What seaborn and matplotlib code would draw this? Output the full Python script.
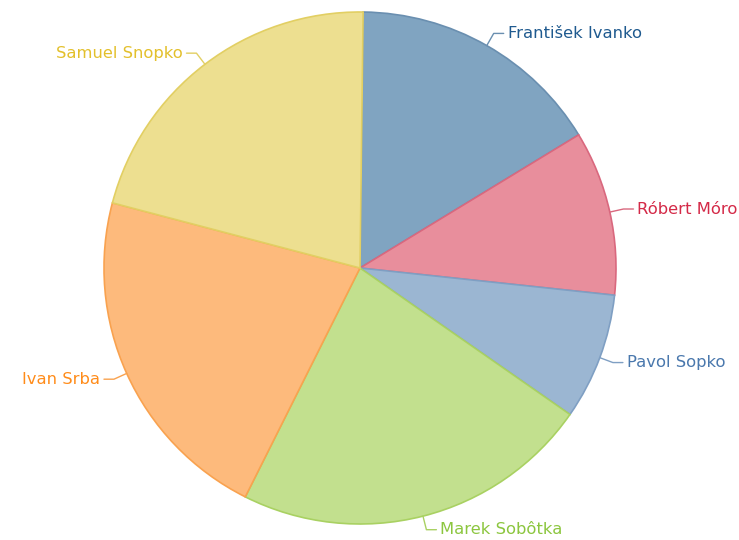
import numpy as np
import matplotlib
matplotlib.use("Agg")
import matplotlib.pyplot as plt
import seaborn as sns

names = ["František Ivanko", "Róbert Móro", "Pavol Sopko",
         "Marek Sobôtka", "Ivan Srba", "Samuel Snopko"]
shares = [16.1, 10.4, 8.0, 22.7, 21.7, 21.1]

fills = ["#80a4c1", "#e88e9c", "#9bb6d2", "#c2e08e", "#fdba7c", "#eddf90"]
edges = ["#6a8fb0", "#d9687e", "#7f9fc3", "#a9d162", "#f9a24f", "#e2cf63"]
text_colors = ["#1f5a8f", "#d42a48", "#4a78ad", "#8cc63f", "#ff8c1a", "#e3c02c"]

sns.set_theme(style="white")
plt.rcParams['font.family'] = ['DejaVu Sans']

fig = plt.figure(figsize=(7.39, 5.40), dpi=100)
ax = fig.add_axes([0, 0, 1, 1])

cx, cy, r = 360, 272, 256
wedges, _ = ax.pie(shares, colors=fills, startangle=89.3, counterclock=False,
                   center=(cx, cy), radius=r, frame=True,
                   wedgeprops=dict(linewidth=1.2))
for w, ec in zip(wedges, edges):
    w.set_edgecolor(ec)
ax.set_xlim(0, 739)
ax.set_ylim(0, 540)
ax.set_aspect('equal')
ax.axis('off')

# leader lines + labels
for w, name, ec, tc in zip(wedges, names, edges, text_colors):
    mid = np.deg2rad((w.theta1 + w.theta2) / 2)
    dx, dy = np.cos(mid), np.sin(mid)
    p0 = (cx + r * dx, cy + r * dy)
    p1 = (cx + (r + 14) * dx, cy + (r + 14) * dy)
    side = 1 if dx >= 0 else -1
    p2 = (p1[0] + side * 10, p1[1])
    ax.plot([p0[0], p1[0], p2[0]], [p0[1], p1[1], p2[1]], color=ec, lw=1)
    ax.text(p2[0] + side * 4, p2[1], name, color=tc, fontsize=11.8,
            ha='left' if side > 0 else 'right', va='center')

plt.savefig("out.png", dpi=100)
